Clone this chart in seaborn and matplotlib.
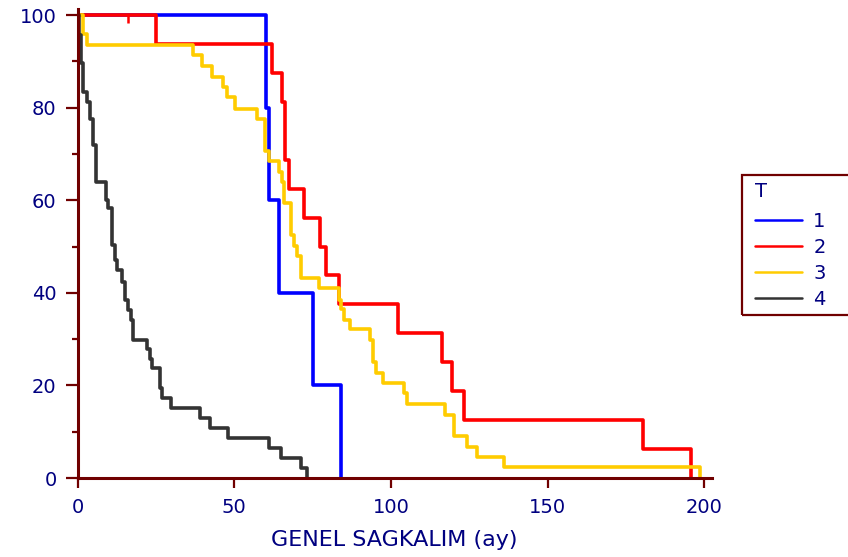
import numpy as np
import pandas as pd
import matplotlib
matplotlib.use("Agg")
import matplotlib.pyplot as plt
from matplotlib.lines import Line2D
from matplotlib.patches import Rectangle
import seaborn as sns

# ---- data ----
groups = ["1", "2", "3", "4"]

times_1 = [60.0, 61.0, 64.3, 75.2, 84.1]
surv_1 = [80.0, 60.0, 40.0, 20.0, 0.0]

times_2 = [25.0, 62.0, 65.2, 66.2, 67.5, 72.3, 77.4, 79.3, 83.4, 102.4,
           116.4, 119.4, 123.3, 180.5, 195.7]
surv_2 = [93.75, 87.5, 81.25, 68.75, 62.5, 56.25, 50.0, 43.75, 37.5, 31.25,
          25.0, 18.75, 12.5, 6.25, 0.0]
censor_2 = [16.0]

times_3 = [1.9, 3.1, 37.0, 39.6, 42.8, 46.5, 47.6, 50.3, 57.2, 59.8, 61.2,
           64.2, 65.2, 66.0, 68.1, 69.2, 70.1, 71.2, 77.2, 83.4, 84.0, 85.1,
           86.9, 93.3, 94.4, 95.2, 97.4, 104.3, 105.2, 117.3, 120.2, 124.4,
           127.4, 136.2, 198.6]
surv_3 = [96.0, 93.5, 91.4, 89.0, 86.7, 84.4, 82.2, 79.8, 77.6, 70.6, 68.4,
          66.1, 64.0, 59.3, 52.5, 50.2, 47.9, 43.3, 41.0, 38.4, 36.5, 34.1,
          32.1, 29.8, 25.1, 22.7, 20.6, 18.3, 15.9, 13.6, 9.1, 6.8,
          4.5, 2.3, 0.0]

times_4 = [0.5, 1.1, 1.9, 3.1, 4.0, 4.85, 5.9, 9.1, 9.8, 11.1, 12.0, 12.7,
           14.1, 15.2, 16.0, 17.1, 17.8, 22.1, 23.1, 23.9, 26.3, 26.9, 29.8,
           39.1, 42.3, 47.9, 61.2, 64.9, 71.3, 73.1]
surv_4 = [95.7, 89.6, 83.4, 81.3, 77.6, 71.9, 64.0, 60.0, 58.3, 50.3, 47.1,
          45.0, 42.4, 38.4, 36.3, 34.1, 29.8, 27.8, 25.6, 23.7, 19.4, 17.2,
          15.1, 12.9, 10.7, 8.6, 6.4, 4.3, 2.1, 0.0]

x_ticks = [0, 50, 100, 150, 200]
y_ticks = [0, 20, 40, 60, 80, 100]
x_label = "GENEL SAGKALIM (ay)"
legend_title = "T"

colors = {"1": "#0000ff", "2": "#ff0000", "3": "#ffcc00", "4": "#333333"}
spine_col = "#700000"
text_col = "#000080"

all_times = [times_1, times_2, times_3, times_4]
all_surv = [surv_1, surv_2, surv_3, surv_4]

rows = []
for g, t, s in zip(groups, all_times, all_surv):
    rows.append((0.0, 100.0, g))
    for ti, si in zip(t, s):
        rows.append((ti, si, g))
df = pd.DataFrame(rows, columns=["time", "surv", "T"])

# ---- figure ----
sns.set_theme(style="white")
plt.rcParams["font.family"] = ["DejaVu Sans"]

W, H = 848, 557
fig = plt.figure(figsize=(W / 100, H / 100), dpi=100)
fig.patch.set_facecolor("white")
ax = fig.add_axes([77.5 / W, 1 - 478 / H, (712 - 77.5) / W, (478 - 9) / H])
ax.set_facecolor("white")

sns.lineplot(data=df, x="time", y="surv", hue="T", palette=colors,
             hue_order=groups, drawstyle="steps-post", estimator=None,
             sort=False, linewidth=2.6, ax=ax, legend=False)

# censored observation mark for group 2
ax.vlines(censor_2, 98.3, 100, color=colors["2"], linewidth=1.8, zorder=3)

ax.set_xlim(0, 202.5)
ax.set_ylim(0, 101.3)
ax.set_xticks(x_ticks)
ax.set_yticks(y_ticks)
ax.set_yticks([10, 30, 50, 70, 90], minor=True)
ax.set_xlabel(x_label, fontsize=16, color=text_col, labelpad=9)
ax.set_ylabel("")

for side in ["top", "right"]:
    ax.spines[side].set_visible(False)
for side in ["left", "bottom"]:
    ax.spines[side].set_color(spine_col)
    ax.spines[side].set_linewidth(2.2)

ax.tick_params(axis="both", which="both", direction="out", color=spine_col,
               width=1.6, labelcolor=text_col, labelsize=14)
ax.tick_params(axis="y", which="major", length=9, pad=6, left=True)
ax.tick_params(axis="y", which="minor", length=4.5, left=True)
ax.tick_params(axis="x", which="major", length=7.5, pad=7, bottom=True)
ax.grid(False)

# ---- legend ----
handles = [Line2D([0], [0], color=colors[g], linewidth=1.8) for g in groups]
leg = fig.legend(handles, groups, title=legend_title, loc="upper left",
                 bbox_to_anchor=(755 / W, 1 - 182 / H),
                 bbox_transform=fig.transFigure, frameon=False,
                 borderpad=0, borderaxespad=0, fontsize=14,
                 title_fontsize=14, handlelength=2.4, handletextpad=0.6,
                 labelspacing=0.36, alignment="left")
leg._legend_box.sep = 8
leg.get_title().set_color(text_col)
for t in leg.get_texts():
    t.set_color(text_col)

fig.patches.append(Rectangle((741.7 / W, 1 - 315 / H), (860 - 741.7) / W,
                             (315 - 175) / H, transform=fig.transFigure,
                             fill=False, edgecolor=spine_col, linewidth=1.6))

fig.savefig("out.png", dpi=100, facecolor="white")
